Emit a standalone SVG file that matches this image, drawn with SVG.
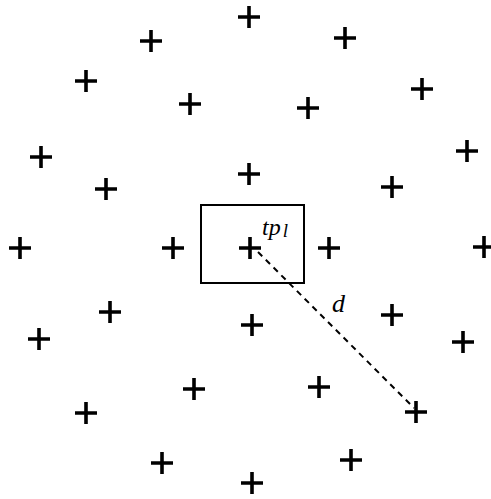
<svg xmlns="http://www.w3.org/2000/svg" width="491" height="499" viewBox="0 0 491 499">
<defs>
<style>
.c{stroke:#000;stroke-width:3.6;fill:none}
.t{font-family:"Liberation Serif",serif;font-style:italic;fill:#000}
</style>
<path id="p" class="c" d="M-11,0H11M0,-11V11"/>
</defs>
<rect width="491" height="499" fill="#fff"/>
<g id="connectors">
<line x1="258" y1="252" x2="414" y2="408" stroke="#000" stroke-width="2" stroke-dasharray="6,5"/>
</g>
<g id="window">
<rect x="201" y="205" width="103" height="78" fill="none" stroke="#000" stroke-width="2"/>
</g>
<g id="points">
<use href="#p" x="249" y="17"/>
<use href="#p" x="151" y="41"/>
<use href="#p" x="345" y="38"/>
<use href="#p" x="86" y="81"/>
<use href="#p" x="422" y="89"/>
<use href="#p" x="190" y="104"/>
<use href="#p" x="308" y="108"/>
<use href="#p" x="41" y="157"/>
<use href="#p" x="467" y="151"/>
<use href="#p" x="249" y="174"/>
<use href="#p" x="106" y="189"/>
<use href="#p" x="392" y="187"/>
<use href="#p" x="20" y="248"/>
<use href="#p" x="173" y="248"/>
<use href="#p" id="tp1" x="250" y="248"/>
<use href="#p" x="329" y="248"/>
<use href="#p" x="484" y="247"/>
<use href="#p" x="110" y="312"/>
<use href="#p" x="39" y="339"/>
<use href="#p" x="252" y="325"/>
<use href="#p" x="392" y="315"/>
<use href="#p" x="463" y="342"/>
<use href="#p" x="194" y="389"/>
<use href="#p" x="319" y="387"/>
<use href="#p" x="86" y="413"/>
<use href="#p" x="416" y="412"/>
<use href="#p" x="162" y="463"/>
<use href="#p" x="351" y="460"/>
<use href="#p" x="252" y="483"/>
</g>
<g id="labels">
<text class="t" x="262" y="235" font-size="24">tp<tspan font-size="19" dx="2" dy="2">l</tspan></text>
<text class="t" x="332" y="312" font-size="26">d</text>
</g>
</svg>
